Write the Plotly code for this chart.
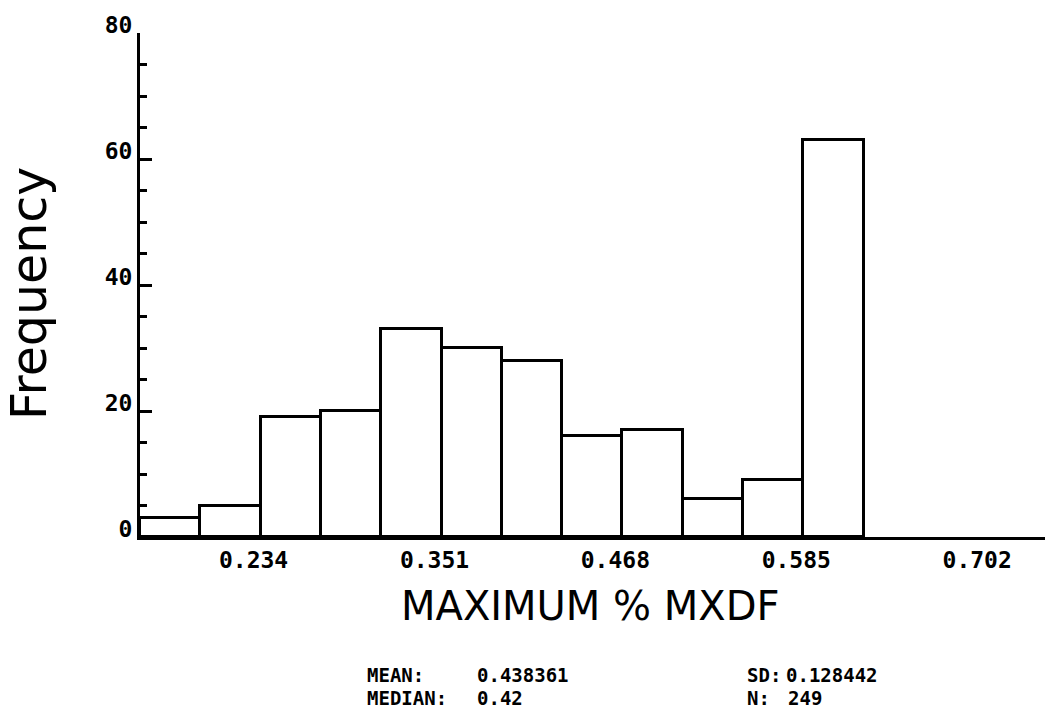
import plotly.graph_objects as go

# ---- data ----
bin_left = [0.156, 0.195, 0.234, 0.273, 0.312, 0.351, 0.390, 0.429, 0.468, 0.507, 0.546, 0.585]
counts = [3, 5, 19, 20, 33, 30, 28, 16, 17, 6, 9, 63]
bin_width = 0.039
x_tick_vals = [0.234, 0.351, 0.468, 0.585, 0.702]
x_tick_text = ["0.234", "0.351", "0.468", "0.585", "0.702"]
y_tick_vals = [0, 20, 40, 60, 80]
stats_labels = ["MEAN:", "MEDIAN:", "SD:", "N:"]
stats_values = ["0.438361", "0.42", "0.128442", "249"]

W, H = 1045, 710
ML, MR, MT, MB = 140, 0, 33, 173
PW, PH = W - ML - MR, H - MT - MB


def px(x):
    return (x - ML) / PW


def py(y):
    return (H - MB - y) / PH


centers = [b + bin_width / 2 for b in bin_left]

fig = go.Figure(
    go.Bar(
        x=centers,
        y=counts,
        width=[bin_width] * len(counts),
        marker=dict(color="white", line=dict(color="black", width=3)),
        hoverinfo="x+y",
    )
)

block_font = dict(family="DejaVu Sans Mono", size=23, color="black", weight="bold")

fig.update_layout(
    width=W,
    height=H,
    margin=dict(l=ML, r=MR, t=MT, b=MB),
    paper_bgcolor="white",
    plot_bgcolor="white",
    showlegend=False,
    bargap=0,
)

fig.update_xaxes(
    range=[0.156, 0.156 + PW / (60.3 / bin_width)],
    tickvals=x_tick_vals,
    ticktext=x_tick_text,
    ticks="",
    showgrid=False,
    zeroline=False,
    showline=True,
    linecolor="black",
    linewidth=3,
    tickfont=block_font,
    ticklabelshift=-7,
)

fig.update_yaxes(
    range=[0, 80],
    tickvals=y_tick_vals,
    ticks="inside",
    ticklen=12,
    tickwidth=3,
    tickcolor="black",
    minor=dict(dtick=5, ticks="inside", ticklen=7, tickwidth=2.5, tickcolor="black", showgrid=False),
    showgrid=False,
    zeroline=False,
    showline=True,
    linecolor="black",
    linewidth=3,
    tickfont=block_font,
    ticklabelshift=-8,
)

annotations = [
    dict(text="MAXIMUM % MXDF", x=px(590), y=py(606), xref="paper", yref="paper",
         xanchor="center", yanchor="middle", showarrow=False,
         font=dict(family="DejaVu Sans", size=40, color="black")),
    dict(text="Frequency", x=px(30), y=py(294), xref="paper", yref="paper",
         xanchor="center", yanchor="middle", showarrow=False, textangle=-90,
         font=dict(family="DejaVu Sans", size=49, color="black")),
]

stat_font = dict(family="DejaVu Sans Mono", size=19, color="black", weight="bold")
label_pos = [(365, 675), (365, 698), (745, 675), (745, 698)]
value_pos = [(475, 675), (475, 698), (784, 675), (786, 698)]
for lab, val, (lx, ly), (vx, vy) in zip(stats_labels, stats_values, label_pos, value_pos):
    annotations.append(dict(text=lab, x=px(lx), y=py(ly), xref="paper", yref="paper",
                            xanchor="left", yanchor="middle", showarrow=False, font=stat_font))
    annotations.append(dict(text=val, x=px(vx), y=py(vy), xref="paper", yref="paper",
                            xanchor="left", yanchor="middle", showarrow=False, font=stat_font))

fig.update_layout(annotations=annotations)

fig.write_html("out.html")
